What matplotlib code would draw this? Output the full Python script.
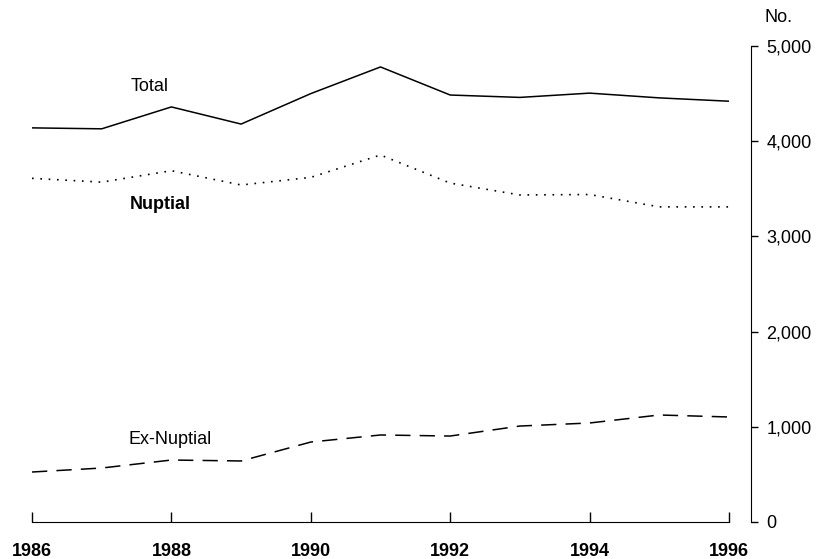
import matplotlib.pyplot as plt
from matplotlib.ticker import FuncFormatter

years = [1986, 1987, 1988, 1989, 1990, 1991, 1992, 1993, 1994, 1995, 1996]
total = [4140, 4130, 4360, 4180, 4500, 4780, 4485, 4460, 4505, 4455, 4420]
nuptial = [3610, 3570, 3690, 3540, 3620, 3855, 3560, 3435, 3440, 3310, 3310]
ex_nuptial = [525, 567, 651, 641, 840, 914, 903, 1008, 1040, 1124, 1103]

x_ticks = [1986, 1988, 1990, 1992, 1994, 1996]
y_ticks = [0, 1000, 2000, 3000, 4000, 5000]

plt.rcParams['font.family'] = ['Liberation Sans', 'DejaVu Sans']

fig = plt.figure(figsize=(8.23, 5.59), dpi=100)
ax = fig.add_axes([32 / 823, 1 - 522 / 559, (729 - 32) / 823, (522 - 46) / 559])

ax.plot(years, total, color='black', lw=1.1, ls='-')
ax.plot(years, nuptial, color='black', lw=1.2, ls=(0, (1, 4)))
ax.plot(years, ex_nuptial, color='black', lw=1.1, ls=(0, (10, 6)))

ax.set_xlim(1986, 1996)
ax.set_ylim(0, 5000)

# right-hand value axis, set apart from the year axis
ax.spines['left'].set_visible(False)
ax.spines['top'].set_visible(False)
ax.spines['right'].set_position(('outward', 16))
ax.yaxis.tick_right()
ax.set_yticks(y_ticks)
ax.yaxis.set_major_formatter(FuncFormatter(lambda v, p: f'{int(v):,}'))
ax.tick_params(axis='y', direction='out', length=5, width=1, labelsize=13, pad=6)

ax.set_xticks(x_ticks)
ax.tick_params(axis='x', direction='in', length=7, width=1, labelsize=13, pad=15)
for lbl in ax.get_xticklabels():
    lbl.set_fontweight('bold')

ax.text(1987.42, 4570, 'Total', fontsize=13, ha='left', va='center')
ax.text(1987.40, 3330, 'Nuptial', fontsize=13, fontweight='bold', ha='left', va='center')
ax.text(1987.38, 870, 'Ex-Nuptial', fontsize=13, ha='left', va='center')
fig.text(765 / 823, 1 - 18 / 559, 'No.', fontsize=13, ha='left', va='center')

fig.savefig('out.png', dpi=100)
